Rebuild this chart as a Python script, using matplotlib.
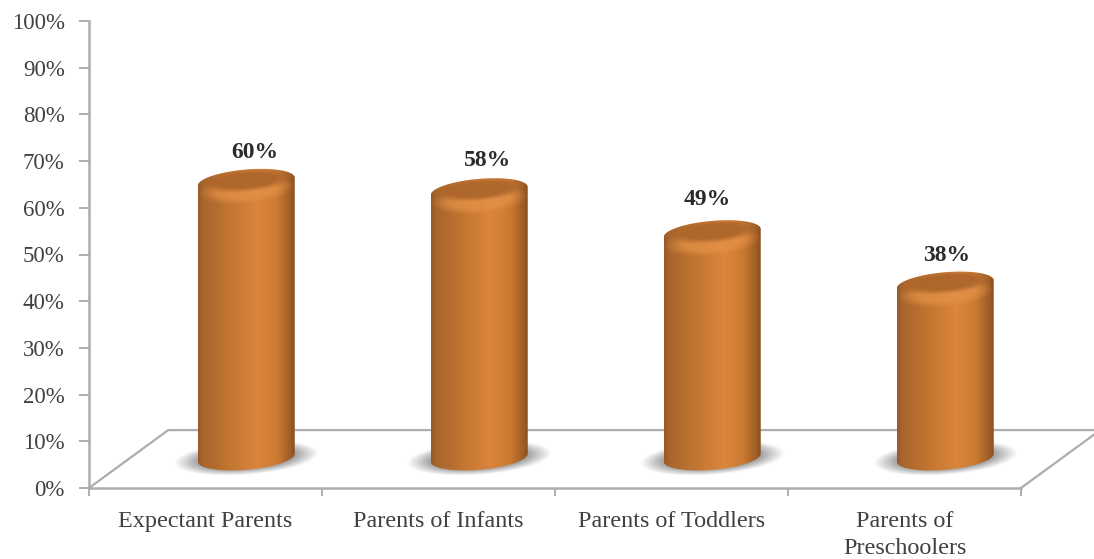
import numpy as np
import matplotlib
matplotlib.use("Agg")
import matplotlib.pyplot as plt
from matplotlib.colors import LinearSegmentedColormap, to_rgb
from matplotlib.patches import Polygon

plt.rcParams['font.family'] = ['Liberation Serif', 'DejaVu Serif']

categories = ['Expectant Parents', 'Parents of Infants', 'Parents of Toddlers', 'Parents of\nPreschoolers']
values = [60, 58, 49, 38]
value_labels = ['60%', '58%', '49%', '38%']
yticks = [0, 10, 20, 30, 40, 50, 60, 70, 80, 90, 100]
ytick_labels = ['0%', '10%', '20%', '30%', '40%', '50%', '60%', '70%', '80%', '90%', '100%']
label_nudge = [0.035, 0.035, -0.02, 0.005]
label_lift = [0.0, 0.3, 0.9, 0.0]

GRID = '#adadad'
TEXT = '#404040'

# floor of the fake 3d box, and where the cylinders sit on it
depth_x = 0.34
depth_y = 12.4
center_shift = 0.175
base_y = 6.5
half_w = 0.208
ell_h = 2.6
tilt = 0.85

body_cmap = LinearSegmentedColormap.from_list('body', [
    (0.0, '#96592a'), (0.05, '#a8652c'), (0.35, '#c47732'), (0.62, '#dc853c'),
    (0.82, '#cb7a32'), (0.96, '#9c5b25'), (1.0, '#86501f')])


def ellipse_xy(cx, cy, t):
    return cx + half_w * np.cos(t), cy + ell_h * np.sin(t) + tilt * np.cos(t)


def draw_gradient(ax, cmap, left, right, low, high, clip, zorder):
    grad = np.linspace(0, 1, 256).reshape(1, -1)
    im = ax.imshow(grad, cmap=cmap, extent=[left, right, low, high], aspect='auto',
                   zorder=zorder, interpolation='bilinear')
    im.set_clip_path(clip)


def soft_ellipse(ax, color, cx, cy, b, soft, strength, clip, zorder):
    # tilted elliptical blob that fades out towards its edge
    u = np.linspace(-1, 1, 200)
    v = np.linspace(b + tilt + 1, -(b + tilt + 1), 120)
    uu, vv = np.meshgrid(u, v)
    rr = np.sqrt(uu ** 2 + ((vv - tilt * uu) / b) ** 2)
    img = np.zeros((120, 200, 4))
    img[..., :3] = to_rgb(color)
    img[..., 3] = strength * np.clip((1 - rr) / soft, 0, 1)
    im = ax.imshow(img, extent=[cx - half_w, cx + half_w, cy - (b + tilt + 1), cy + (b + tilt + 1)],
                   aspect='auto', zorder=zorder, interpolation='bilinear')
    im.set_clip_path(clip)


def draw_shadow(ax, cx, cy):
    xx, yy = np.meshgrid(np.linspace(-1, 1, 200), np.linspace(1, -1, 100))
    rr = np.sqrt(xx ** 2 + (yy - 0.3 * xx) ** 2)
    img = np.zeros((100, 200, 4))
    img[..., :3] = 0.45
    img[..., 3] = np.clip((1 - rr) / 0.5, 0, 1)
    ax.imshow(img, extent=[cx - 0.31, cx + 0.31, cy - 3.6, cy + 3.6], aspect='auto', zorder=2,
              interpolation='bilinear')


def draw_cylinder(ax, x, value):
    cx = x + center_shift
    top_y = value + 5.6
    t_low = np.linspace(np.pi, 2 * np.pi, 80)
    t_up = np.linspace(0, np.pi, 80)

    draw_shadow(ax, cx, base_y - 0.2)

    bx, by = ellipse_xy(cx, base_y, t_low)
    ux, uy = ellipse_xy(cx, top_y, t_up)
    body = Polygon(np.column_stack([np.r_[bx, ux], np.r_[by, uy]]), closed=True,
                   transform=ax.transData, facecolor='none', edgecolor='none')
    ax.add_patch(body)
    draw_gradient(ax, body_cmap, cx - half_w, cx + half_w, 0, 100, body, 3)

    # soft light band below the lid, then the darker lid itself
    soft_ellipse(ax, '#e69449', cx, top_y - 1.8, 3.1, 0.4, 0.7, body, 4)
    soft_ellipse(ax, '#ad662b', cx, top_y + 0.3, 2.5, 0.4, 0.95, body, 5)


fig = plt.figure(figsize=(10.94, 5.59), dpi=100)
ax = fig.add_axes([89 / 1094, 1 - 488 / 559, 932 / 1094, 467 / 559])

ax.set_facecolor('none')
for side in ['top', 'right']:
    ax.spines[side].set_visible(False)
for side in ['left', 'bottom']:
    ax.spines[side].set_color(GRID)
    ax.spines[side].set_linewidth(1.8)

n = len(categories)
# floor outline
ax.plot([0, depth_x, n + depth_x, n], [0, depth_y, depth_y, 0], color=GRID, lw=1.6,
        clip_on=False, zorder=1)

for i, v in enumerate(values):
    draw_cylinder(ax, i + 0.5, v)
    ax.text(i + 0.5 + center_shift + label_nudge[i], v + 11.8 + label_lift[i], value_labels[i],
            ha='center', va='center', fontsize=17, fontweight='bold', color='#2b2b2b', zorder=6)

ax.set_xlim(0, n)
ax.set_ylim(0, 100)
ax.set_xticks(np.arange(n + 1))
ax.set_xticklabels([])
ax.set_xticks(np.arange(n) + 0.5, minor=True)
ax.set_xticklabels(categories, minor=True, fontsize=17.4, color=TEXT, linespacing=1.35)
ax.set_yticks(yticks)
ax.set_yticklabels(ytick_labels, fontsize=16.5, color=TEXT)
ax.tick_params(axis='x', which='major', length=6, width=1.4, color=GRID)
ax.tick_params(axis='x', which='minor', length=0, pad=16.5)
ax.tick_params(axis='y', length=7, width=1.4, color=GRID, pad=10.5)

fig.savefig('out.png', dpi=100)
